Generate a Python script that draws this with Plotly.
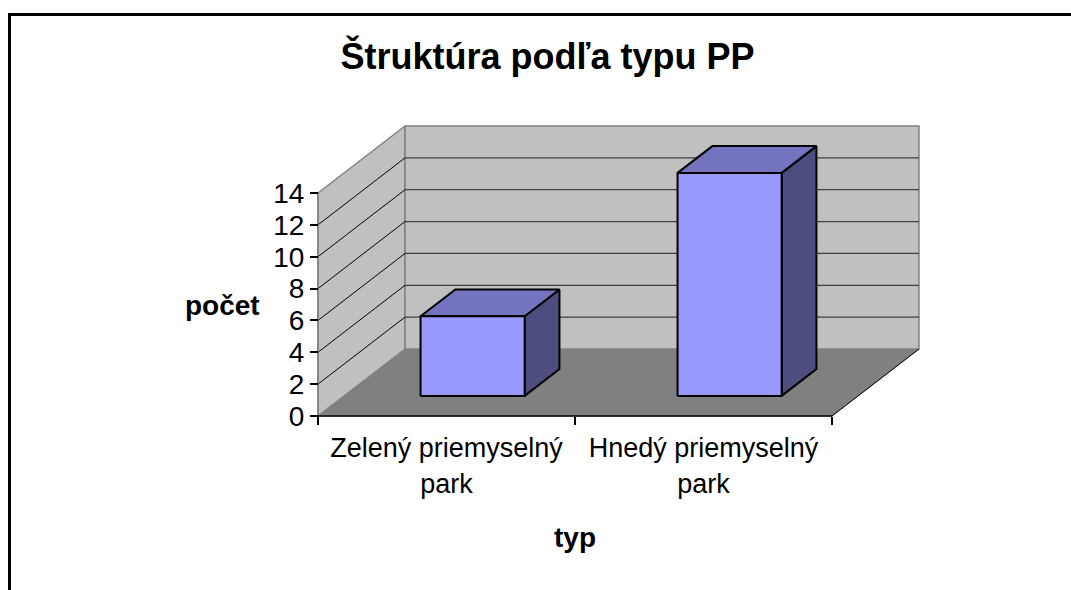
import plotly.graph_objects as go

# ---- data ----
categories = ["Zelený priemyselný park", "Hnedý priemyselný park"]
category_labels = ["Zelený priemyselný<br>park", "Hnedý priemyselný<br>park"]
counts = [5, 14]
y_ticks = [0, 2, 4, 6, 8, 10, 12, 14]
title_text = "Štruktúra podľa typu PP"
x_title = "typ"
y_title = "počet"

# ---- style / 3D projection constants ----
Y_MAX = max(y_ticks)
DX, DY = 0.3385, 4.206          # oblique depth offset (data units)
BAR_W = 0.405
D0, D1 = 0.30, 0.70             # bar depth span (fraction of wall depth)
FONT = "Liberation Sans, Arial, sans-serif"
L, R, T, B = 295, 935, 110, 435
W, H = 1071, 590
PXX, PXY = 257.0, 223.0 / 14
x_range = [-0.5 + (L - 318) / PXX, -0.5 + (R - 318) / PXX]
y_range = [(416 - B) / PXY, (416 - T) / PXY]

n = len(categories)
x0e, x1e = -0.5, n - 0.5

fig = go.Figure()

def poly(xs, ys, fill, line_color, lw):
    fig.add_trace(go.Scatter(x=xs + [xs[0]], y=ys + [ys[0]], mode="lines", fill="toself",
                             fillcolor=fill, line=dict(color=line_color, width=lw),
                             hoverinfo="skip", showlegend=False))

def lines(xs, ys, color, lw):
    fig.add_trace(go.Scatter(x=xs, y=ys, mode="lines", line=dict(color=color, width=lw),
                             hoverinfo="skip", showlegend=False))

# floor
poly([x0e, x1e, x1e + DX, x0e + DX], [0, 0, DY, DY], "#808080", "#808080", 1)
# side wall
poly([x0e, x0e, x0e + DX, x0e + DX], [0, Y_MAX, Y_MAX + DY, DY], "#C0C0C0", "#808080", 1.5)
# back wall
poly([x0e + DX, x1e + DX, x1e + DX, x0e + DX], [DY, DY, Y_MAX + DY, Y_MAX + DY], "#C0C0C0", "#808080", 1.5)

# gridlines
gx, gy, bx, by = [], [], [], []
for v in y_ticks:
    if v == 0 or v == Y_MAX:
        continue
    gx += [x0e, x0e + DX, None]
    gy += [v, v + DY, None]
    bx += [x0e + DX, x1e + DX, None]
    by += [v + DY, v + DY, None]
lines(gx, gy, "#000000", 1)
lines(bx, by, "#404040", 1.3)

# floor right edge
lines([x1e, x1e + DX], [0, DY], "#000000", 1)

# bars
for i, v in enumerate(counts):
    ox0, oy0 = D0 * DX, D0 * DY
    ox1, oy1 = D1 * DX, D1 * DY
    xl, xr = i - BAR_W / 2, i + BAR_W / 2
    # side
    poly([xr + ox0, xr + ox1, xr + ox1, xr + ox0], [oy0, oy1, v + oy1, v + oy0], "#4D4D80", "#000000", 2)
    # top
    poly([xl + ox0, xr + ox0, xr + ox1, xl + ox1], [v + oy0, v + oy0, v + oy1, v + oy1], "#7373BF", "#000000", 2)
    # front
    poly([xl + ox0, xr + ox0, xr + ox0, xl + ox0], [oy0, oy0, v + oy0, v + oy0], "#9999FF", "#000000", 2)

# axis lines
lines([x0e, x0e], [0, Y_MAX], "#808080", 1.5)
lines([x0e, x1e], [0, 0], "#000000", 1.5)

# invisible trace for the category-label axis
fig.add_trace(go.Scatter(x=[0], y=[0], xaxis="x2", mode="markers", marker=dict(opacity=0),
                         hoverinfo="skip", showlegend=False))

y_pos = (318 - L) / (R - L)
x_pos = (B - 416) / (B - T)

fig.update_layout(
    width=W, height=H,
    margin=dict(l=L, r=W - R, t=T, b=H - B, pad=0),
    paper_bgcolor="white", plot_bgcolor="white",
    showlegend=False,
    font=dict(family=FONT, size=27, color="black"),
    title=dict(text="<b>" + title_text + "</b>", x=547.5 / W, xref="container", xanchor="center",
               y=1 - 56 / H, yref="container", yanchor="middle",
               font=dict(family=FONT, size=36, color="black")),
    xaxis=dict(range=x_range, anchor="free", position=x_pos, showgrid=False, zeroline=False,
               showline=False, tickvals=[k - 0.5 for k in range(n + 1)], ticks="outside",
               ticklen=8, tickwidth=1.5, tickcolor="black", showticklabels=False, fixedrange=True),
    xaxis2=dict(range=x_range, overlaying="x", anchor="free", position=x_pos, side="bottom",
                showgrid=False, zeroline=False, showline=False, tickvals=list(range(n)),
                ticktext=category_labels, ticks="outside", ticklen=8, tickcolor="rgba(0,0,0,0)",
                tickfont=dict(family=FONT, size=27, color="black"), fixedrange=True),
    yaxis=dict(range=y_range, anchor="free", position=y_pos, showgrid=False, zeroline=False,
               showline=False, tickvals=y_ticks, ticks="outside", ticklen=8, tickwidth=1.5,
               tickcolor="black", tickfont=dict(family=FONT, size=28, color="black"),
               fixedrange=True),
    annotations=[
        dict(text="<b>" + y_title + "</b>", xref="paper", yref="paper",
             x=(222 - L) / (R - L), y=(B - 305) / (B - T), xanchor="center", yanchor="middle",
             showarrow=False, font=dict(family=FONT, size=28, color="black")),
        dict(text="<b>" + x_title + "</b>", xref="paper", yref="paper",
             x=(575 - L) / (R - L), y=(B - 537.6) / (B - T), xanchor="center", yanchor="middle",
             showarrow=False, font=dict(family=FONT, size=28, color="black")),
    ],
    shapes=[dict(type="rect", xref="paper", yref="paper",
                 x0=(9.5 - L) / (R - L), x1=(1085 - L) / (R - L),
                 y0=(B - 600) / (B - T), y1=(B - 14.5) / (B - T),
                 line=dict(color="black", width=3), fillcolor="rgba(0,0,0,0)", layer="above")],
)

fig.write_html("out.html", config={"displayModeBar": False},
               post_script="document.body.style.margin='0';")
